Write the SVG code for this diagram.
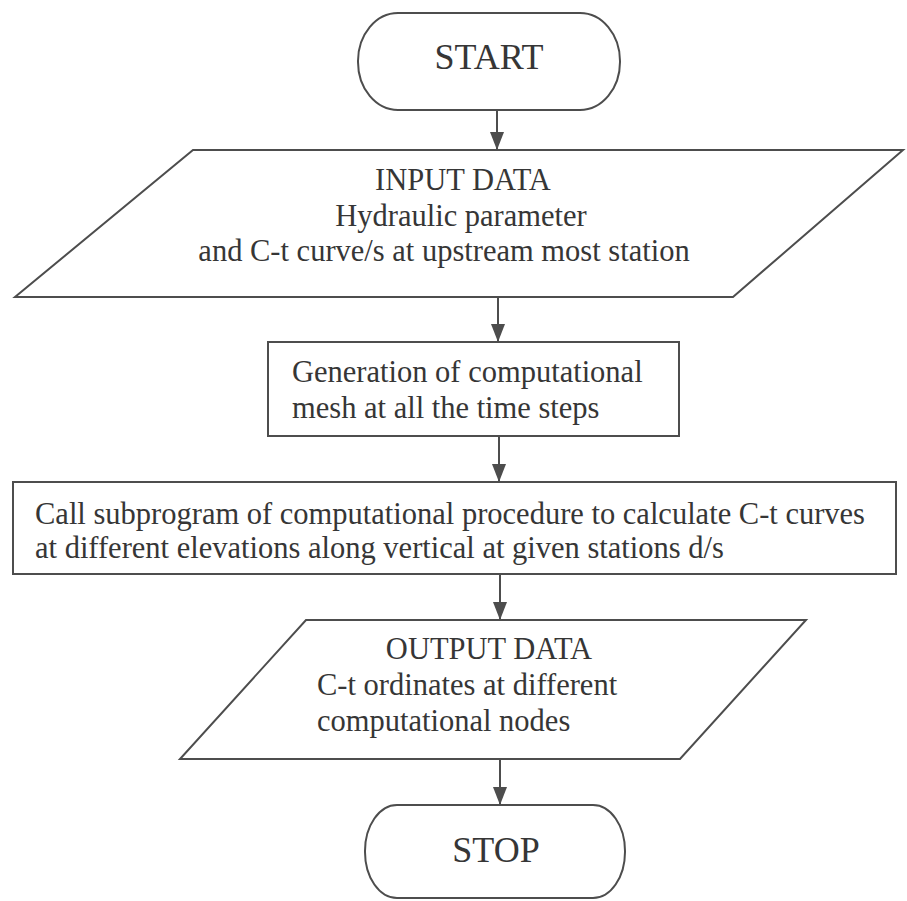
<svg xmlns="http://www.w3.org/2000/svg" width="907" height="901" viewBox="0 0 907 901">
<defs>
<style>
.shape{fill:#ffffff;stroke:#4d4d4d;stroke-width:2}
.conn{stroke:#4d4d4d;stroke-width:2;fill:none}
text{font-family:"Liberation Serif","Times New Roman",serif;fill:#363636;font-size:30.5px}
.big{font-size:36px}
</style>
<marker id="tri" viewBox="0 0 18 14" refX="18" refY="7" markerWidth="18" markerHeight="14" markerUnits="userSpaceOnUse" orient="auto">
<path d="M0,0 L18,7 L0,14 Z" fill="#4d4d4d"/>
</marker>
</defs>
<rect width="907" height="901" fill="#ffffff"/>
<g id="connectors">
<line class="conn" x1="497" y1="110" x2="497" y2="150" marker-end="url(#tri)"/>
<line class="conn" x1="498" y1="297" x2="498" y2="342" marker-end="url(#tri)"/>
<line class="conn" x1="499" y1="436" x2="499" y2="482" marker-end="url(#tri)"/>
<line class="conn" x1="500" y1="574" x2="500" y2="620" marker-end="url(#tri)"/>
<line class="conn" x1="500" y1="759" x2="500" y2="805" marker-end="url(#tri)"/>
</g>
<g id="start">
<rect class="shape" x="358" y="13" width="262" height="97" rx="40" ry="48"/>
<text class="big" x="489" y="69" text-anchor="middle">START</text>
</g>
<g id="input">
<polygon class="shape" points="193,150 903,150 733,297 15,297"/>
<text x="463" y="190" text-anchor="middle">INPUT DATA</text>
<text x="461" y="226" text-anchor="middle">Hydraulic parameter</text>
<text x="444" y="261" text-anchor="middle">and C-t curve/s at upstream most station</text>
</g>
<g id="mesh">
<rect class="shape" x="268" y="342" width="411" height="94"/>
<text x="292" y="382">Generation of computational</text>
<text x="292" y="418">mesh at all the time steps</text>
</g>
<g id="calc">
<rect class="shape" x="13" y="482" width="883" height="92"/>
<text x="35" y="524">Call subprogram of computational procedure to calculate C-t curves</text>
<text x="35" y="558">at different elevations along vertical at given stations d/s</text>
</g>
<g id="output">
<polygon class="shape" points="306,620 806,620 680,759 180,759"/>
<text x="489" y="659" text-anchor="middle">OUTPUT DATA</text>
<text x="317" y="695">C-t ordinates at different</text>
<text x="317" y="731">computational nodes</text>
</g>
<g id="stop">
<rect class="shape" x="365" y="805" width="260" height="93" rx="32" ry="46"/>
<text class="big" x="496" y="862" text-anchor="middle">STOP</text>
</g>
</svg>
